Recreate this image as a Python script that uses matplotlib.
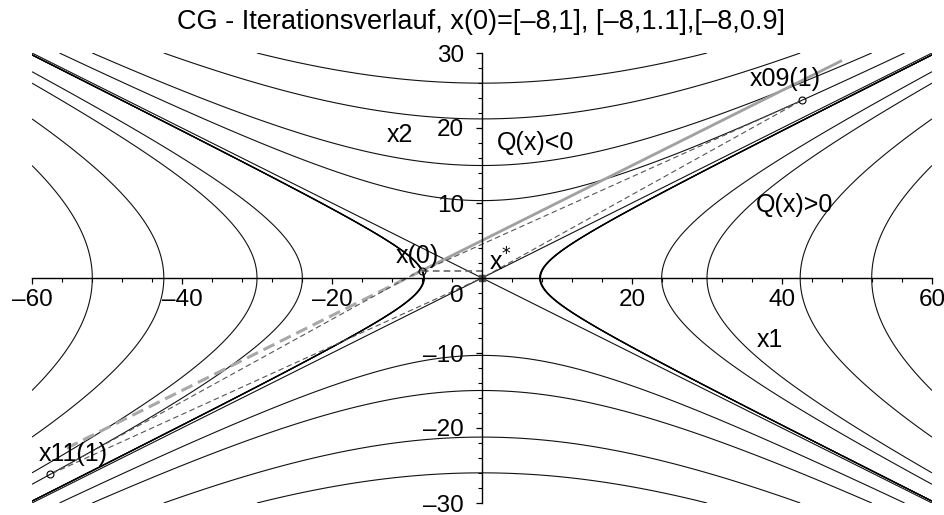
import numpy as np
import matplotlib
matplotlib.use("Agg")
import matplotlib.pyplot as plt
from matplotlib.ticker import FixedLocator, MultipleLocator

plt.rcParams['font.family'] = ['Liberation Sans', 'DejaVu Sans']

# Quadratic form Q(x) = x1^2 - 4 x2^2 and its contour levels
q_coef = [1.0, -4.0]
levels_thin = [-2700, -1800, -900, -426, 0, 574, 900, 1800, 2700]
levels_start = [59.16, 60.0, 60.76]   # level curves through the three start points

# CG iterates
x0 = [-8.0, 1.0]
x0_09 = [-8.0, 0.9]
x0_11 = [-8.0, 1.1]
x09_1 = [42.63, 23.68]
x11_1 = [-57.6, -26.19]
xstar = [0.0, 0.0]
x0_h = [0.0, 1.0]          # end of the horizontal step from x(0)

# search direction through x(0)
dir_pt_fwd = [48.0, 29.0]
dir_pt_back = [-56.0, -23.0]

xticks = [-60, -40, -20, 20, 40, 60]
xticklabels = ['\u201360', '\u201340', '\u201320', '20', '40', '60']
yticks = [-30, -20, -10, 10, 20, 30]
yticklabels = ['\u201330', '\u201320', '\u201310', '10', '20', '30']

fig = plt.figure(figsize=(9.44, 5.15), dpi=100)
ax = fig.add_axes([32 / 944, 12 / 515, 900 / 944, 450 / 515])
ax.set_xlim(-60, 60)
ax.set_ylim(-30, 30)

g1 = np.linspace(-60, 60, 1201)
g2 = np.linspace(-30, 30, 601)
X1, X2 = np.meshgrid(g1, g2)
Q = q_coef[0] * X1 ** 2 + q_coef[1] * X2 ** 2

ax.contour(X1, X2, Q, levels=levels_thin, colors='#111111', linewidths=0.8,
           linestyles='solid')
ax.contour(X1, X2, Q, levels=levels_start, colors='#000000', linewidths=0.9,
           linestyles='solid')

# search direction through x(0)
ax.plot([x0[0], dir_pt_fwd[0]], [x0[1], dir_pt_fwd[1]], color='#a0a0a0', lw=2.0,
        solid_capstyle='butt')
ax.plot([x0[0], dir_pt_back[0]], [x0[1], dir_pt_back[1]], color='#a8a8a8', lw=2.2,
        dashes=(4, 2))

# iteration paths
dash_kw = dict(color='#555555', lw=0.8, dashes=(5, 3))
ax.plot([x0[0], x0_h[0], xstar[0]], [x0[1], x0_h[1], xstar[1]], color='#666666',
        lw=1.2, dashes=(4, 2.5))
ax.plot([x0_09[0], x09_1[0], xstar[0]], [x0_09[1], x09_1[1], xstar[1]], **dash_kw)
ax.plot([x0_11[0], x11_1[0], xstar[0]], [x0_11[1], x11_1[1], xstar[1]], **dash_kw)

# iterate markers
for p in (x0, x09_1, x11_1):
    ax.plot(p[0], p[1], marker='o', ms=5, mfc='none', mec='#000000', mew=0.8)
ax.plot(xstar[0], xstar[1], marker='s', ms=5, color='#505050')

# axes through the origin
for s in ('top', 'right'):
    ax.spines[s].set_visible(False)
ax.spines['left'].set_position(('data', 0))
ax.spines['bottom'].set_position(('data', 0))
ax.spines['left'].set_linewidth(1.0)
ax.spines['bottom'].set_linewidth(1.0)

ax.xaxis.set_major_locator(FixedLocator(xticks))
ax.set_xticklabels(xticklabels)
ax.xaxis.set_minor_locator(MultipleLocator(4))
ax.yaxis.set_major_locator(FixedLocator(yticks))
ax.set_yticklabels(yticklabels)
ax.yaxis.set_minor_locator(MultipleLocator(2))
ax.tick_params(axis='x', which='major', direction='out', length=4, width=0.9,
               labelsize=17.5, pad=4)
ax.tick_params(axis='x', which='minor', direction='out', length=3, width=0.8)
ax.tick_params(axis='y', which='major', direction='out', length=4, width=0.9,
               labelsize=17.5, pad=9)
ax.tick_params(axis='y', which='minor', direction='out', length=3, width=0.8)

ax.text(-3.3, -2.4, '0', fontsize=17.5, ha='center', va='center')

# annotations
ann = dict(fontsize=18, ha='center', va='center')
ax.text(-11.0, 19.1, 'x2', **ann)
ax.text(7.1, 18.0, 'Q(x)<0', **ann)
ax.text(41.7, 9.7, 'Q(x)>0', **ann)
ax.text(38.4, -8.3, 'x1', **ann)
ax.text(-8.6, 3.0, 'x(0)', **ann)
ax.text(2.4, 2.1, r'x$^{*}$', **ann)
ax.text(40.4, 26.5, 'x09(1)', **ann)
ax.text(-54.5, -23.4, 'x11(1)', **ann)

fig.text(481 / 944, 1 - 22 / 515,
         'CG - Iterationsverlauf, x(0)=[\u20138,1], [\u20138,1.1],[\u20138,0.9]',
         fontsize=19.5, ha='center', va='center')

fig.savefig('out.png', dpi=100)
